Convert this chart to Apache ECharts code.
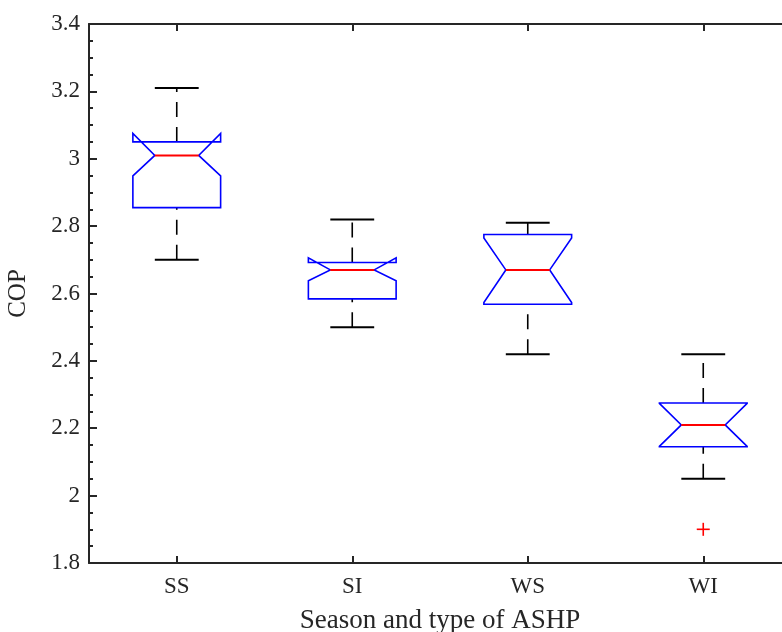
<!DOCTYPE html>
<html lang="en">
<head>
    <meta charset="UTF-8">
    <title>COP boxplot</title>
    <script src="https://cdn.jsdelivr.net/npm/echarts@6/dist/echarts.min.js"></script>
    <style>
        html, body { margin: 0; padding: 0; background: #fff; }
        #chart { width: 782px; height: 632px; }
    </style>
</head>
<body>
    <div id="chart"></div>
    <script>
        // data
        var categories = ['SS', 'SI', 'WS', 'WI'];
        var whiskerLow  = [2.70, 2.50, 2.42, 2.05];
        var q1          = [2.855, 2.584, 2.568, 2.145];
        var median      = [3.01, 2.67, 2.67, 2.21];
        var q3          = [3.05, 2.692, 2.775, 2.275];
        var whiskerHigh = [3.21, 2.82, 2.81, 2.42];
        var notchLow    = [2.949, 2.638, 2.573, 2.146];
        var notchHigh   = [3.075, 2.706, 2.765, 2.274];
        var outliers    = [[3, 1.90]];

        var font = 'Liberation Serif, Times New Roman, serif';
        var axisColor = '#262626';

        var boxData = categories.map(function (c, i) {
            return [i, whiskerLow[i], q1[i], median[i], q3[i], whiskerHigh[i], notchLow[i], notchHigh[i]];
        });

        function renderBox(params, api) {
            var i = api.value(0);
            var band = api.size([1, 0])[0];
            var w = band * 0.25, nw = band * 0.125, cw = band * 0.125;
            var cx = api.coord([i, 0])[0];
            var y = function (v) { return api.coord([i, v])[1]; };
            var lo = y(api.value(1)), b1 = y(api.value(2)), md = y(api.value(3)),
                b3 = y(api.value(4)), hi = y(api.value(5)), nl = y(api.value(6)), nh = y(api.value(7));
            var dash = { stroke: '#000', lineWidth: 1.6, lineDash: [15, 10] };
            var solid = { stroke: '#000', lineWidth: 2 };
            return {
                type: 'group',
                children: [
                    { type: 'line', shape: { x1: cx, y1: lo, x2: cx, y2: b1 }, style: dash },
                    { type: 'line', shape: { x1: cx, y1: b3, x2: cx, y2: hi }, style: dash },
                    { type: 'line', shape: { x1: cx - cw, y1: lo, x2: cx + cw, y2: lo }, style: solid },
                    { type: 'line', shape: { x1: cx - cw, y1: hi, x2: cx + cw, y2: hi }, style: solid },
                    {
                        type: 'polygon',
                        shape: {
                            points: [
                                [cx - w, b1], [cx - w, nl], [cx - nw, md], [cx - w, nh], [cx - w, b3],
                                [cx + w, b3], [cx + w, nh], [cx + nw, md], [cx + w, nl], [cx + w, b1]
                            ]
                        },
                        style: { fill: 'none', stroke: '#0000ff', lineWidth: 1.6 }
                    },
                    { type: 'line', shape: { x1: cx - nw, y1: md, x2: cx + nw, y2: md }, style: { stroke: '#ff0000', lineWidth: 2 } }
                ]
            };
        }

        function renderOutlier(params, api) {
            var p = api.coord([api.value(0), api.value(1)]);
            var s = 6.5;
            var st = { stroke: '#ff0000', lineWidth: 1.6 };
            return {
                type: 'group',
                children: [
                    { type: 'line', shape: { x1: p[0] - s, y1: p[1], x2: p[0] + s, y2: p[1] }, style: st },
                    { type: 'line', shape: { x1: p[0], y1: p[1] - s, x2: p[0], y2: p[1] + s }, style: st }
                ]
            };
        }

        var chart = echarts.init(document.getElementById('chart'));
        var option = {
            backgroundColor: '#fff',
            animation: false,
            grid: { left: 89, right: -9, top: 24, bottom: 69, outerBoundsMode: 'none', containLabel: false },
            xAxis: [{
                type: 'category',
                data: categories,
                boundaryGap: true,
                name: 'Season and type of ASHP',
                nameLocation: 'middle',
                nameGap: 44,
                nameTextStyle: { fontFamily: font, fontSize: 27, color: axisColor },
                axisLine: { lineStyle: { color: axisColor, width: 2 } },
                axisTick: { show: true, inside: true, alignWithLabel: true, length: 7, lineStyle: { color: axisColor, width: 2 } },
                axisLabel: { fontFamily: font, fontSize: 23, color: axisColor, margin: 12 },
                splitLine: { show: false }
            }, {
                type: 'category',
                data: categories,
                position: 'top',
                boundaryGap: true,
                axisLine: { lineStyle: { color: axisColor, width: 2 } },
                axisTick: { show: true, inside: true, alignWithLabel: true, length: 7, lineStyle: { color: axisColor, width: 2 } },
                axisLabel: { show: false },
                splitLine: { show: false }
            }],
            yAxis: {
                type: 'value',
                min: 1.8,
                max: 3.4,
                interval: 0.2,
                name: 'COP',
                nameLocation: 'middle',
                nameGap: 58,
                nameTextStyle: { fontFamily: font, fontSize: 25, color: axisColor },
                axisLine: { show: true, lineStyle: { color: axisColor, width: 2 } },
                axisTick: { show: true, inside: true, length: 8, lineStyle: { color: axisColor, width: 2 } },
                minorTick: { show: true, splitNumber: 4, length: 4, lineStyle: { color: axisColor, width: 2 } },
                axisLabel: { fontFamily: font, fontSize: 23, color: axisColor, margin: 9 },
                splitLine: { show: false }
            },
            series: [{
                type: 'custom',
                renderItem: renderBox,
                encode: { x: 0, y: [1, 2, 3, 4, 5] },
                data: boxData
            }, {
                type: 'custom',
                renderItem: renderOutlier,
                encode: { x: 0, y: 1 },
                data: outliers
            }]
        };
        chart.setOption(option);
    </script>
</body>
</html>
